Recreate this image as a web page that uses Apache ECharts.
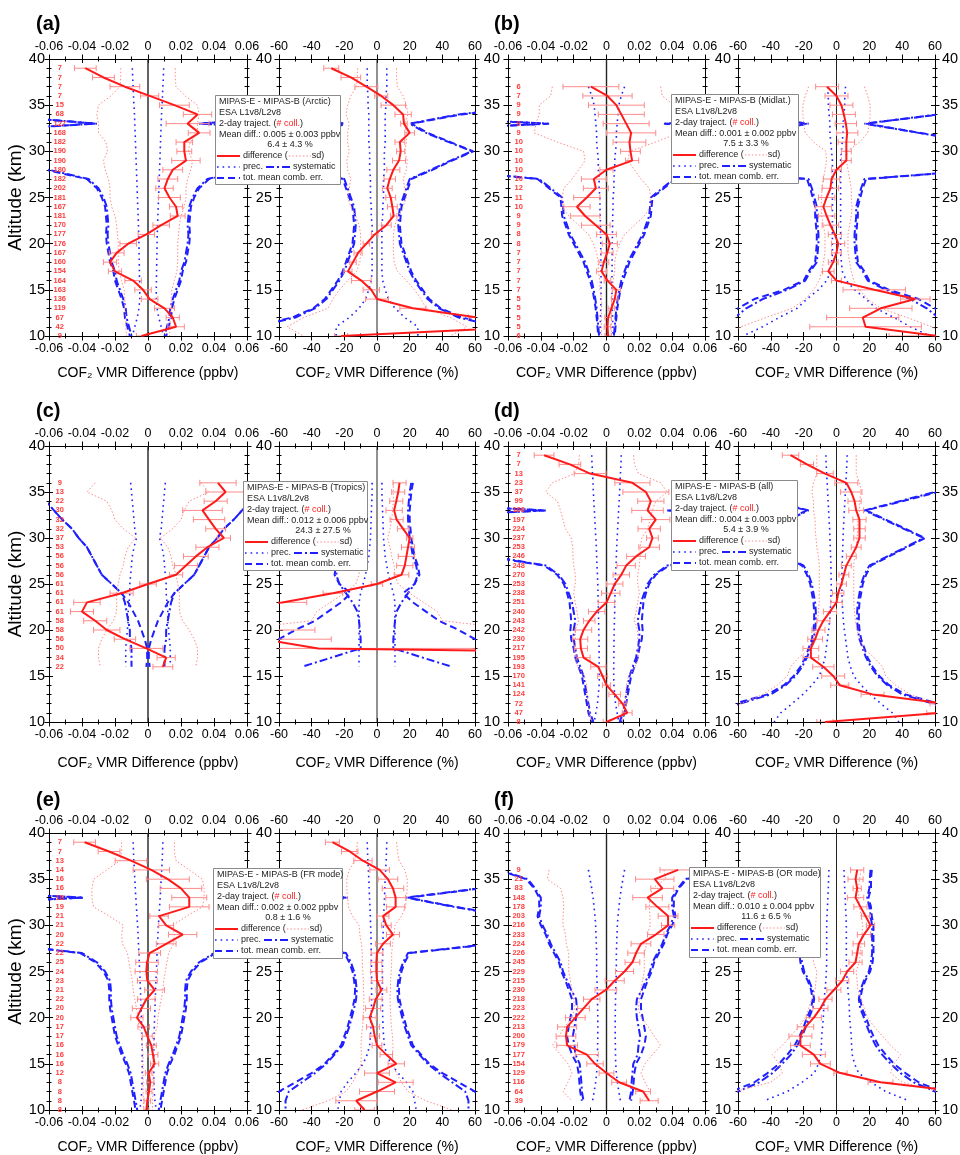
<!DOCTYPE html>
<html><head><meta charset="utf-8">
<script src="https://cdn.jsdelivr.net/npm/echarts@6/dist/echarts.min.js"></script>
<style>html,body{margin:0;padding:0;background:#fff}#c{width:960px;height:1155px}</style>
</head><body><div id="c"></div>
<script>
// ---------------- tick labels ----------------
const PPBV_TICKS = ['-0.06','-0.04','-0.02','0','0.02','0.04','0.06'];
const PCT_TICKS = ['-60','-40','-20','0','20','40','60'];
const ALT_TICKS = ['10','15','20','25','30','35','40'];

// ---------------- altitude levels (km) ----------------
const ALT_39_10 = [39,38,37,36,35,34,33,32,31,30,29,28,27,26,25,24,23,22,21,20,19,18,17,16,15,14,13,12,11,10];
const ALT_37_10 = [37,36,35,34,33,32,31,30,29,28,27,26,25,24,23,22,21,20,19,18,17,16,15,14,13,12,11,10];
const ALT_36_16 = [36,35,34,33,32,31,30,29,28,27,26,25,24,23,22,21,20,19,18,17,16];
const ALT_36_11 = [36,35,34,33,32,31,30,29,28,27,26,25,24,23,22,21,20,19,18,17,16,15,14,13,12,11];

// ---------------- (a) Arctic ----------------
const A_COLL = [7,7,7,7,15,68,127,168,182,190,190,180,182,202,181,167,181,170,177,176,167,160,154,164,163,136,119,67,42,9];
const A_DIFF_PPBV = [-0.038,-0.027,-0.014,0.001,0.016,0.030,0.024,0.031,0.022,0.022,0.023,0.015,0.012,0.010,0.013,0.017,0.018,0.008,-0.001,-0.012,-0.019,-0.023,-0.020,-0.009,-0.003,0.001,0.010,0.015,0.017,-0.004];
const A_ERR_PPBV = [0.0066,0.0066,0.009,0.0055,0.009,0.0086,0.013,0.0066,0.005,0.0045,0.0086,0.006,0.006,0.0053,0.0066,0.004,0.0045,0.005,0.005,0.005,0.0045,0.004,0.004,0.005,0.005,0.005,0.006,0.004,0.005,0.003];
const A_SD_PPBV = [0.0165,0.0165,0.017,0.0225,0.030,0.031,0.030,0.030,0.0255,0.0245,0.027,0.026,0.024,0.023,0.023,0.022,0.020,0.019,0.0185,0.018,0.018,0.018,0.0175,0.016,0.0145,0.014,0.014,0.0135,0.0135,0.013];
const A_PREC_PPBV = [0.0095,0.0093,0.009,0.0088,0.0085,0.0082,0.008,0.0078,0.0076,0.0074,0.0072,0.007,0.0068,0.0066,0.0064,0.0062,0.006,0.0058,0.0056,0.0055,0.0054,0.0053,0.0052,0.0051,0.005,0.005,0.0055,0.0065,0.008,0.0095];
const A_SYS_PPBV = [0.2,0.2,0.2,0.2,0.2,0.1,0.031,0.128,0.2,0.2,0.2,0.06,0.036,0.030,0.027,0.025,0.0245,0.024,0.0245,0.024,0.023,0.022,0.020,0.019,0.017,0.015,0.0135,0.013,0.0115,0.010];
const A_TOT_PPBV = [0.2,0.2,0.2,0.2,0.2,0.1,0.032,0.13,0.2,0.2,0.2,0.062,0.037,0.031,0.028,0.026,0.0255,0.025,0.0255,0.025,0.024,0.023,0.021,0.020,0.018,0.016,0.0145,0.014,0.0125,0.011];
const A_DIFF_PCT = [-28,-16,-6.5,2.6,10,16,16.5,20,14,14.5,13.5,10,7.8,6.3,8.4,9.4,10.2,5.7,-1.4,-6.5,-11.6,-14.7,-17.8,-9.6,-3.5,0,22,62,95,-22];
const A_ERR_PCT = [4.6,6,7,4,7.5,5,2,3,3,2.5,4,4,3.5,3,3,3,2,3,2,2,2.5,2,2.5,6,5,7,8,6,6,4];
const A_SD_PCT = [12,12,12.5,16,18,19,17,18,18,17,18.5,18,16,17,18,16,13,11,10,10,10,10.5,12.5,18,23,27,30,45,55,45];
const A_PREC_PCT = [6,6,6,5.5,5.5,5,5,5,5,4.5,4.5,4.5,4,4,4,3.5,3.5,3,3,3,3,3,3,3.5,5,7,11,17,25,25];
const A_SYS_PCT = [100,100,100,100,100,50,20,30,44,58,45,33,20,18,16,14,13.5,13,13.5,14,16,18,20,23,27,31,38,50,75,90];
const A_TOT_PCT = [100,100,100,100,100,52,21,31,45,59,46,34,21,19,17,15,14.5,14,14.5,15,17,19,21,24,28,32,39,52,78,95];

// ---------------- (b) Midlat. ----------------
const B_COLL = [6,7,9,9,9,9,10,10,10,10,10,12,11,10,9,9,8,8,7,7,7,7,7,5,5,5,5,6];
const B_DIFF_PPBV = [-0.0095,0.0006,0.006,0.009,0.012,0.015,0.014,0.0146,0.0156,0.0,-0.0077,-0.0065,-0.012,-0.018,-0.013,-0.0065,0.0,0.002,0.0004,-0.0016,-0.003,0.0006,0.006,0.005,0.003,0.001,0.0006,0.001];
const B_ERR_PPBV = [0.017,0.015,0.017,0.014,0.014,0.015,0.010,0.006,0.004,0.004,0.0076,0.0076,0.008,0.008,0.009,0.0087,0.006,0.0046,0.0036,0.003,0.003,0.002,0.0025,0.002,0.002,0.002,0.002,0.002];
const B_SD_PPBV = [0.033,0.034,0.041,0.041,0.043,0.044,0.030,0.014,0.013,0.017,0.021,0.026,0.027,0.027,0.023,0.017,0.011,0.008,0.006,0.005,0.005,0.004,0.004,0.003,0.003,0.003,0.003,0.003];
const B_PREC_PPBV = [0.011,0.009,0.0075,0.007,0.0065,0.006,0.006,0.0055,0.005,0.005,0.0045,0.0045,0.004,0.004,0.0038,0.0037,0.0036,0.0035,0.0035,0.0034,0.0034,0.0033,0.0033,0.0034,0.0035,0.0037,0.0039,0.004];
const B_SYS_PPBV = [0.2,0.2,0.2,0.15,0.035,0.15,0.2,0.2,0.2,0.1,0.041,0.034,0.027,0.0265,0.026,0.024,0.022,0.019,0.016,0.013,0.011,0.009,0.0078,0.0068,0.006,0.0055,0.005,0.0045];
const B_TOT_PPBV = [0.2,0.2,0.2,0.15,0.036,0.15,0.2,0.2,0.2,0.1,0.042,0.035,0.028,0.0275,0.027,0.025,0.023,0.020,0.017,0.014,0.012,0.010,0.0085,0.0075,0.0066,0.006,0.0055,0.005];
const B_DIFF_PCT = [-5.7,0,3,4.5,5.7,6.5,6,6,6,0,-3,-3.7,-6,-8,-6,-3.7,-1,1,0,-2,-5,0,23,48,27,16,17.7,62];
const B_ERR_PCT = [7,7,7,7,6.5,6.5,5,3,3,3,5,5,5,5,5,5,4,4,3,3,3.5,3,19,9,19,22,34,30];
const B_SD_PCT = [17,19,20.5,20.5,20,19,14,6.5,6,7,8,9,9,9.5,9,8,7,7,7,8,9,10.5,14,19,27,43,58,70];
const B_PREC_PCT = [5.5,5,5,4.5,4,4,3.5,3,2.5,2.5,2.5,2.5,2.5,2.5,2.5,2.5,2.5,2.5,2.5,3,3.5,6,11,18,24,35,45,57];
const B_SYS_PCT = [100,100,100,62,17,50,83,100,100,90,17,15,13.5,12,12,11.5,11,11,11.5,12,16,19,30,45,55,62,70,80];
const B_TOT_PCT = [100,100,100,63,18,51,84,100,100,92,18,16,14.5,13,13,12.5,12,12,12.5,13,17,20,32,50,60,68,75,85];

// ---------------- (c) Tropics ----------------
const C_COLL = [9,13,22,30,32,32,37,53,56,56,56,61,61,61,61,58,58,56,50,34,22];
const C_DIFF_PPBV = [0.0424,0.047,0.041,0.033,0.037,0.041,0.046,0.036,0.029,0.023,0.017,0.0,-0.016,-0.037,-0.040,-0.032,-0.025,-0.014,-0.001,0.011,0.009];
const C_ERR_PPBV = [0.011,0.012,0.007,0.012,0.0095,0.006,0.004,0.007,0.0075,0.007,0.004,0.005,0.007,0.008,0.007,0.007,0.008,0.0065,0.01,0.0055,0.006];
const C_SD_PPBV = [0.032,0.037,0.025,0.022,0.020,0.015,0.0075,0.012,0.014,0.015,0.017,0.018,0.019,0.019,0.019,0.021,0.025,0.028,0.030,0.030,0.029];
const C_PREC_PPBV = [0.0105,0.010,0.0095,0.009,0.0085,0.008,0.007,0.0085,0.0095,0.010,0.0105,0.011,0.011,0.0115,0.012,0.012,0.0125,0.013,0.0135,0.0135,0.0135];
const C_SYS_PPBV = [0.08,0.07,0.062,0.057,0.052,0.046,0.042,0.037,0.034,0.031,0.028,0.022,0.016,0.014,0.013,0.012,0.011,0.011,0.010,0.010,0.010];
const C_TOT_PPBV = [0.08,0.07,0.062,0.057,0.052,0.046,0.042,0.037,0.034,0.031,0.028,0.022,0.016,0.012,0.009,0.006,0.004,0.002,0.0005,0.0005,0.001];
const C_DIFF_PCT = [13.8,13,11.8,10.5,12,16,20,19,18,17,15,0,-27,-58,-120,-150,-100,-70,-36,400,300];
const C_ERR_PCT = [4,4,4,5,4,3.5,2,4,5,5,4.5,3.5,6,15,15,20,62,42,100,100,100];
const C_SD_PCT = [10,10,10,9.5,9,8,6.5,8,9,10.5,11,13,20,28.5,37,40,90,120,150,150,150];
const C_PREC_PCT = [3,3,3.2,3.4,3.6,3.8,4,4.5,5,6,7,8.5,10,11,11,11,11,11,11,11,11];
const C_SYS_PCT = [21,20,19.5,19,19,19.5,20,21,22,24,25,23,19,15,12,11,10.5,10,10,28,46];
const C_TOT_PCT = [22,21,20.5,20,20,20.5,21,22,23,25,26,23,16,22,30,38,50,60,100,100,100];

// ---------------- (d) all ----------------
const D_COLL = [7,7,13,23,37,99,166,197,224,237,253,246,248,270,253,238,251,240,243,242,230,217,195,193,170,141,124,72,47,8];
const D_DIFF_PPBV = [-0.038,-0.0223,-0.010,0.0158,0.024,0.027,0.025,0.030,0.026,0.028,0.026,0.018,0.012,0.009,0.005,0.0026,0.0,-0.006,-0.0105,-0.014,-0.016,-0.0156,-0.014,-0.005,-0.0024,0.0,0.005,0.0097,0.0126,0.0];
const D_ERR_PPBV = [0.006,0.0066,0.0097,0.0107,0.014,0.008,0.0096,0.0086,0.0068,0.0036,0.0063,0.0057,0.0056,0.005,0.005,0.0056,0.005,0.005,0.0035,0.005,0.0046,0.004,0.004,0.0046,0.003,0.0025,0.0035,0.0023,0.003,0.002];
const D_SD_PPBV = [0.0165,0.017,0.0195,0.033,0.037,0.030,0.028,0.0265,0.025,0.0215,0.0205,0.0205,0.020,0.019,0.019,0.020,0.019,0.018,0.017,0.019,0.019,0.019,0.0195,0.0175,0.0135,0.012,0.012,0.011,0.0105,0.0095];
const D_PREC_PPBV = [0.009,0.0088,0.0085,0.0082,0.008,0.0077,0.0074,0.0071,0.0068,0.0065,0.0062,0.006,0.0058,0.0055,0.0053,0.0052,0.005,0.005,0.0048,0.0047,0.0046,0.0045,0.0045,0.0044,0.0044,0.0045,0.005,0.0055,0.0065,0.0075];
const D_SYS_PPBV = [0.2,0.2,0.2,0.2,0.2,0.15,0.037,0.15,0.2,0.2,0.2,0.07,0.037,0.029,0.025,0.023,0.021,0.020,0.019,0.020,0.020,0.019,0.018,0.016,0.014,0.013,0.012,0.011,0.010,0.008];
const D_TOT_PPBV = [0.2,0.2,0.2,0.2,0.2,0.15,0.038,0.15,0.2,0.2,0.2,0.072,0.038,0.030,0.026,0.024,0.0225,0.022,0.0215,0.022,0.0215,0.020,0.019,0.017,0.015,0.014,0.013,0.012,0.011,0.009];
const D_DIFF_PCT = [-28,-18,-7,6,9,11,12,14,14,14,12,9,6,4.5,3,1,0,-4,-8,-11,-13,-15.6,-15.6,-8,-2,2,22,66,64,-7];
const D_ERR_PCT = [5,4,5,7,6.5,4,4.5,4,3.5,3.5,3,3,3,3,3,3.5,3.5,4,4,4,4.5,4.8,4.8,6.5,7,5.5,7,9,9,5];
const D_SD_PCT = [12,12,12,14,15,14,14,13,13,12.5,12,11,10.5,10.5,10.5,10.5,10.5,11,11.5,12.5,14.5,16,23,28,30,36,45,58,70,80];
const D_PREC_PCT = [6.5,6.3,6,5.7,5.4,5.1,4.8,4.5,4.2,4,3.8,3.6,3.4,3.3,3.2,3.3,3.5,3.8,4.2,4.8,5.5,6.3,7,8.5,10.5,15,20.5,27,34,38];
const D_SYS_PCT = [100,100,100,100,60,38.5,17,29,41,53,42,31,20,17,15,14,13,12.6,12.6,13,14,16,18,21,25,31,40,59,80,100];
const D_TOT_PCT = [100,100,100,100,62,40,18,30,42,54,43,32,21,18,16,15,14,13.6,13.6,14,15,17,19,22,26,32,42,62,85,100];

// ---------------- (e) FR mode ----------------
const E_COLL = [7,7,13,14,16,16,18,19,21,21,20,22,22,25,24,23,21,22,20,20,17,17,16,16,16,12,8,8,8,8];
const E_DIFF_PPBV = [-0.0384,-0.0236,-0.0103,0.002,0.012,0.020,0.025,0.025,0.0067,0.011,0.021,0.011,0.001,-0.0006,-0.001,-0.0004,0.004,-0.001,-0.004,-0.0067,-0.0026,-0.0004,0.002,0.003,0.004,0.0004,0.0014,0.0006,-0.0004,-0.001];
const E_ERR_PPBV = [0.0066,0.0066,0.0096,0.011,0.013,0.0126,0.0106,0.012,0.0056,0.0045,0.0086,0.006,0.0066,0.0068,0.0068,0.006,0.006,0.0053,0.0055,0.0037,0.0035,0.003,0.003,0.003,0.0025,0.002,0.0022,0.0018,0.002,0.0015];
const E_SD_PPBV = [0.016,0.016,0.017,0.025,0.033,0.034,0.034,0.033,0.0235,0.015,0.016,0.0155,0.0125,0.0115,0.0105,0.0095,0.009,0.008,0.007,0.006,0.0055,0.0037,0.0035,0.003,0.003,0.003,0.003,0.003,0.0028,0.0027];
const E_PREC_PPBV = [0.009,0.0088,0.0086,0.0083,0.008,0.0077,0.0074,0.007,0.0067,0.0063,0.006,0.0058,0.0055,0.0053,0.005,0.0048,0.0046,0.0044,0.0042,0.004,0.0038,0.0037,0.0036,0.0035,0.0035,0.0035,0.0036,0.0038,0.0042,0.005];
const E_SYS_PPBV = [0.2,0.2,0.2,0.2,0.2,0.15,0.039,0.15,0.2,0.2,0.2,0.09,0.040,0.031,0.026,0.023,0.0225,0.0225,0.022,0.021,0.020,0.019,0.017,0.015,0.0125,0.0105,0.0095,0.0085,0.0075,0.0065];
const E_TOT_PPBV = [0.2,0.2,0.2,0.2,0.2,0.15,0.040,0.15,0.2,0.2,0.2,0.09,0.041,0.032,0.027,0.024,0.0235,0.0235,0.023,0.022,0.021,0.020,0.018,0.016,0.0135,0.0115,0.0105,0.0095,0.0085,0.0075];
const E_DIFF_PCT = [-27.3,-16.7,-8.6,1.6,6.7,9.8,11.4,11.4,3.7,5.7,9.8,3.7,0,-0.4,-0.4,0,2.7,-0.8,-2.4,-4.5,-2.4,-1.4,0,5.7,11.8,0,11.4,0,-12.7,-7.6];
const E_ERR_PCT = [4.3,5,5.6,6,6,6.6,6,5.6,3.6,3,4,4.5,3.6,3.4,3.5,3.5,3.3,3.9,4.6,4,4,3,3,3.8,5,7.6,10.7,10.7,12.5,6];
const E_SD_PCT = [12,12.5,13.5,17,18.5,18.5,18,17.5,15,11,10.5,9.5,9,9,8.7,8.3,8.2,8,8.2,8.5,8.8,9.5,9.8,9.6,9.8,11.8,15,19,30,46];
const E_PREC_PCT = [6,5.8,5.6,5.3,5,4.8,4.6,4.3,4.1,3.9,3.7,3.6,3.5,3.4,3.3,3.3,3.3,3.3,3.4,3.5,3.7,4,4.5,6,8.5,13,18,22,23,24];
const E_SYS_PCT = [100,100,100,100,100,62,18,47,80,100,100,70,19,16,14,13,12.4,12.8,14,15.5,17,19,21,26,31,38,46,54,56,56];
const E_TOT_PCT = [100,100,100,100,100,64,19,48,82,100,100,72,20,17,15,14,13.4,13.8,15,16.5,18,20,22,27,32,40,50,60,63,65];

// ---------------- (f) OR mode ----------------
const F_COLL = [9,21,83,148,178,203,216,233,224,226,245,229,215,230,218,223,222,213,200,179,177,154,129,116,64,39];
const F_DIFF_PPBV = [0.0436,0.0294,0.034,0.025,0.031,0.0375,0.0375,0.030,0.021,0.018,0.0158,0.011,0.005,-0.0004,-0.009,-0.014,-0.019,-0.024,-0.0247,-0.024,-0.012,-0.007,0.0,0.0077,0.0223,0.026];
const F_ERR_PPBV = [0.011,0.0117,0.007,0.009,0.007,0.006,0.004,0.005,0.006,0.005,0.0045,0.0055,0.0058,0.0066,0.005,0.0036,0.006,0.0058,0.006,0.0063,0.007,0.005,0.0045,0.0045,0.0045,0.0055];
const F_SD_PPBV = [0.035,0.036,0.028,0.0265,0.026,0.0265,0.0265,0.025,0.0245,0.023,0.023,0.023,0.022,0.021,0.020,0.0195,0.021,0.0255,0.029,0.033,0.028,0.0235,0.021,0.0235,0.0265,0.021];
const F_PREC_PPBV = [0.011,0.010,0.009,0.0082,0.0076,0.007,0.0066,0.0064,0.0062,0.006,0.006,0.006,0.0058,0.0056,0.0055,0.0054,0.0053,0.0053,0.0053,0.0054,0.0055,0.0056,0.006,0.0066,0.0075,0.0085];
const F_SYS_PPBV = [0.065,0.048,0.0435,0.040,0.040,0.041,0.039,0.036,0.034,0.031,0.028,0.0265,0.024,0.0215,0.0185,0.018,0.0185,0.0195,0.0205,0.0195,0.019,0.0163,0.0158,0.0153,0.015,0.014];
const F_TOT_PPBV = [0.066,0.049,0.044,0.041,0.041,0.042,0.040,0.037,0.035,0.032,0.029,0.0275,0.025,0.023,0.021,0.021,0.022,0.023,0.024,0.023,0.021,0.018,0.017,0.0165,0.016,0.015];
const F_DIFF_PCT = [12.6,11.6,12.6,11.6,14.6,17.7,20.7,16.7,13.6,12.6,11.6,6.5,3.5,-1.6,-6.7,-9.8,-13.8,-18.9,-22,-22,-13.8,-9.8,2.4,26.8,75,100];
const F_ERR_PCT = [4,4.6,2.5,5,4,2.5,2.5,4,3.5,3,4,4,4,4.3,4,4.6,4.6,5,7,6,7,6,4,7.6,8,8];
const F_SD_PCT = [15,14,13.5,13.5,14,15,16,15.5,15,14.5,14,12,12.5,13,15,17,19,23,28,33,39,35,33,40,62,80];
const F_PREC_PCT = [4.6,4.8,5,5.3,5.5,5.8,6,6,6,6,6,6.2,6.5,7,7.5,7.8,8,8.5,9,9.2,9.6,11,13.5,21,30,44];
const F_SYS_PCT = [20.7,20.3,20,18.7,20,20.7,21.7,21.7,21.7,21.7,21,19.7,16.7,14.6,13.6,14.5,16.7,18.7,21,23.8,27.8,33,39,47,60,80];
const F_TOT_PCT = [21.5,21,21,19.5,21,21.5,22.5,22.5,22.5,22.5,22,20.5,17.5,15.5,14.5,15.5,18,20,22.5,25.5,30,35,42,50,64,85];

// ---------------- panel text ----------------
const PANEL_LABELS = ['(a)','(b)','(c)','(d)','(e)','(f)'];
const REGIONS = ['Arctic','Midlat.','Tropics','all','FR mode','OR mode'];
const MEAN_PPBV = ['0.005 ± 0.003 ppbv','0.001 ± 0.002 ppbv','0.012 ± 0.006 ppbv','0.004 ± 0.003 ppbv','0.002 ± 0.002 ppbv','0.010 ± 0.004 ppbv'];
const MEAN_PCT = ['6.4 ± 4.3 %','7.5 ± 3.3 %','24.3 ± 27.5 %','5.4 ± 3.9 %','0.8 ± 1.6 %','11.6 ± 6.5 %'];

const PANELS = [
  {alt:ALT_39_10, coll:A_COLL, ppbv:[A_DIFF_PPBV,A_ERR_PPBV,A_SD_PPBV,A_PREC_PPBV,A_SYS_PPBV,A_TOT_PPBV], pct:[A_DIFF_PCT,A_ERR_PCT,A_SD_PCT,A_PREC_PCT,A_SYS_PCT,A_TOT_PCT]},
  {alt:ALT_37_10, coll:B_COLL, ppbv:[B_DIFF_PPBV,B_ERR_PPBV,B_SD_PPBV,B_PREC_PPBV,B_SYS_PPBV,B_TOT_PPBV], pct:[B_DIFF_PCT,B_ERR_PCT,B_SD_PCT,B_PREC_PCT,B_SYS_PCT,B_TOT_PCT]},
  {alt:ALT_36_16, coll:C_COLL, ppbv:[C_DIFF_PPBV,C_ERR_PPBV,C_SD_PPBV,C_PREC_PPBV,C_SYS_PPBV,C_TOT_PPBV], pct:[C_DIFF_PCT,C_ERR_PCT,C_SD_PCT,C_PREC_PCT,C_SYS_PCT,C_TOT_PCT]},
  {alt:ALT_39_10, coll:D_COLL, ppbv:[D_DIFF_PPBV,D_ERR_PPBV,D_SD_PPBV,D_PREC_PPBV,D_SYS_PPBV,D_TOT_PPBV], pct:[D_DIFF_PCT,D_ERR_PCT,D_SD_PCT,D_PREC_PCT,D_SYS_PCT,D_TOT_PCT]},
  {alt:ALT_39_10, coll:E_COLL, ppbv:[E_DIFF_PPBV,E_ERR_PPBV,E_SD_PPBV,E_PREC_PPBV,E_SYS_PPBV,E_TOT_PPBV], pct:[E_DIFF_PCT,E_ERR_PCT,E_SD_PCT,E_PREC_PCT,E_SYS_PCT,E_TOT_PCT]},
  {alt:ALT_36_11, coll:F_COLL, ppbv:[F_DIFF_PPBV,F_ERR_PPBV,F_SD_PPBV,F_PREC_PPBV,F_SYS_PPBV,F_TOT_PPBV], pct:[F_DIFF_PCT,F_ERR_PCT,F_SD_PCT,F_PREC_PCT,F_SYS_PCT,F_TOT_PCT]}
];

// ---------------- layout ----------------
const FONT = 'Arial, "Liberation Sans", Helvetica, sans-serif';
const ROW_TOP = [59, 446, 833], ROW_H = [277, 276, 277];
const COL_L = [49, 279, 508, 738], COL_W = [198, 196, 197, 197];
const YLAB_MARGIN = [4, 7, 8, 7];
const XNAME_GAP = [30, 34, 30];
const LEG_BOX = [[215,95,125,89],[671,94,127,89],[243,481,124,89],[671,480,126,90],[213,868,129,90],[689,867,131,90]];
const PANEL_LABEL_POS = [[36,24],[494,24],[36,411],[494,411],[36,800],[494,800]];

const RED = '#ff1a1a', PINK = '#ff8a8a', BLUE = '#1f1fff';

const grids = [], xAxes = [], yAxes = [], series = [], graphics = [];

function mkX(gi, isPct, pos, inside, showLabel, name, row) {
  const r = isPct ? 60 : 0.06, step = isPct ? 20 : 0.02;
  const labs = isPct ? PCT_TICKS : PPBV_TICKS;
  const ax = {
    type:'value', gridIndex:gi, min:-r, max:r, interval:step, position:pos,
    splitLine:{show:false},
    axisLine:{show:true, onZero:false, lineStyle:{color:'#000', width:1}},
    axisTick:{show:true, inside:inside, length:inside?4:4.5, lineStyle:{color:'#000', width:1}},
    minorTick:{show:true, splitNumber:2, length:2.5, lineStyle:{color:'#000', width:1}},
    axisLabel:{show:showLabel, hideOverlap:false, showMinLabel:true, showMaxLabel:true, margin:6,
      fontSize:12.5, color:'#000', fontFamily:FONT,
      formatter: v => labs[Math.round((v + r) / step)]}
  };
  if (name) {
    ax.name = name; ax.nameLocation = 'middle'; ax.nameGap = XNAME_GAP[row];
    ax.nameTextStyle = {fontSize:14, color:'#000', fontFamily:FONT};
  }
  xAxes.push(ax);
}
function mkY(gi, pos, inside, showLabel, margin, name) {
  const ax = {
    type:'value', gridIndex:gi, min:10, max:40, interval:5, position:pos,
    splitLine:{show:false},
    axisLine:{show:true, onZero:false, lineStyle:{color:'#000', width:1}},
    axisTick:{show:true, inside:inside, length:inside?4:4.5, lineStyle:{color:'#000', width:1}},
    minorTick:{show:true, splitNumber:5, length:2.5, lineStyle:{color:'#000', width:1}},
    axisLabel:{show:showLabel, hideOverlap:false, showMinLabel:true, showMaxLabel:true, margin:margin,
      fontSize:14.5, color:'#000', fontFamily:FONT,
      formatter: v => ALT_TICKS[Math.round((v - 10) / 5)]}
  };
  if (name) {
    ax.name = name; ax.nameLocation = 'middle'; ax.nameGap = 22;
    ax.nameTextStyle = {fontSize:19, color:'#000', fontFamily:FONT};
  }
  yAxes.push(ax);
}

function pts(vals, alts, sign) { return alts.map((a, i) => [sign * vals[i], a]); }
function line(gi, data, color, width, type, z) {
  series.push({type:'line', xAxisIndex:gi*4, yAxisIndex:gi*4, data:data, symbol:'none', showSymbol:false,
    silent:true, animation:false, clip:true, z:z, lineStyle:{color:color, width:width, type:type}});
}

function addSubplot(p, isPct) {
  const row = Math.floor(p / 2), col = (p % 2) * 2 + (isPct ? 1 : 0);
  const gi = grids.length;
  grids.push({left:COL_L[col], top:ROW_TOP[row], width:COL_W[col], height:ROW_H[row], containLabel:false, outerBoundsMode:'none'});
  const xName = isPct ? 'COF₂ VMR Difference (%)' : 'COF₂ VMR Difference (ppbv)';
  mkX(gi, isPct, 'bottom', false, true, xName, row);
  mkX(gi, isPct, 'top', false, true, null, row);
  mkX(gi, isPct, 'bottom', true, false, null, row);
  mkX(gi, isPct, 'top', true, false, null, row);
  mkY(gi, 'left', false, true, YLAB_MARGIN[col], col === 0 ? 'Altitude (km)' : null);
  mkY(gi, 'right', false, col === 3, 7, null);
  mkY(gi, 'left', true, false, 0, null);
  mkY(gi, 'right', true, false, 0, null);

  const P = PANELS[p], alts = P.alt;
  const [diff, err, sd, prec, sys, tot] = isPct ? P.pct : P.ppbv;
  // zero line
  line(gi, [[0, 10], [0, 40]], '#222', isPct ? 1 : 1.4, 'solid', 1);
  // blue error profiles and pink sd
  for (const s of [1, -1]) {
    line(gi, pts(tot, alts, s), BLUE, 2, [7, 4], 2);
    line(gi, pts(sys, alts, s), BLUE, 2, [8, 3, 2, 3], 2);
    line(gi, pts(prec, alts, s), BLUE, 1.6, [1.6, 4], 2);
    line(gi, pts(sd, alts, s), PINK, 1, [1.5, 2], 3);
  }
  // error bars
  series.push({type:'custom', xAxisIndex:gi*4, yAxisIndex:gi*4, silent:true, animation:false, clip:true, z:4,
    data: alts.map((a, i) => [diff[i], a, err[i]]),
    renderItem: function (params, api) {
      const x = api.value(0), y = api.value(1), e = api.value(2);
      const a = api.coord([x - e, y]), b = api.coord([x + e, y]);
      const st = {stroke:PINK, lineWidth:1};
      return {type:'group', children:[
        {type:'line', shape:{x1:a[0], y1:a[1], x2:b[0], y2:b[1]}, style:st},
        {type:'line', shape:{x1:a[0], y1:a[1]-3, x2:a[0], y2:a[1]+3}, style:st},
        {type:'line', shape:{x1:b[0], y1:b[1]-3, x2:b[0], y2:b[1]+3}, style:st}
      ]};
    }});
  // difference
  line(gi, pts(diff, alts, 1), RED, 2, 'solid', 5);
  // number of collocations
  if (!isPct) {
    series.push({type:'custom', xAxisIndex:gi*4, yAxisIndex:gi*4, silent:true, animation:false, z:6,
      data: alts.map((a, i) => [-0.0535, a, P.coll[i]]),
      renderItem: function (params, api) {
        const c = api.coord([api.value(0), api.value(1)]);
        return {type:'text', x:c[0], y:c[1], style:{text:String(api.value(2)), fill:'#ff3c3c',
          fontSize:7.5, fontWeight:'bold', fontFamily:FONT, align:'center', verticalAlign:'middle'}};
      }});
  }
}

// text measuring for legend layout
const mctx = document.createElement('canvas').getContext('2d');
function tw(s, size) { mctx.font = size + 'px ' + FONT; return mctx.measureText(s).width; }
function gtext(x, y, text, extra) {
  graphics.push({type:'text', x:x, y:y, z:101, silent:true,
    style:Object.assign({text:text, fill:'#222', fontSize:9, fontFamily:FONT, align:'left', verticalAlign:'middle'}, extra || {})});
}
function gline(x1, y1, x2, y2, color, width, dash) {
  graphics.push({type:'line', z:101, silent:true, shape:{x1:x1, y1:y1, x2:x2, y2:y2},
    style:{stroke:color, lineWidth:width, lineDash:dash || null}});
}
function addLegend(p) {
  const [x0, y0, w, h] = LEG_BOX[p];
  graphics.push({type:'rect', z:100, silent:true, shape:{x:x0+0.5, y:y0+0.5, width:w, height:h},
    style:{fill:'#fff', stroke:'#8a8a8a', lineWidth:1}});
  const R = [6.5, 17.5, 28.5, 39.5, 50, 61, 72, 83].map(v => y0 + v);
  const tx = x0 + 4;
  gtext(tx, R[0], 'MIPAS-E - MIPAS-B (' + REGIONS[p] + ')');
  gtext(tx, R[1], 'ESA L1v8/L2v8');
  gtext(tx, R[2], '2-day traject. ({r|# coll.})', {rich:{r:{fill:'#ff1a1a', fontSize:9, fontFamily:FONT}}});
  gtext(tx, R[3], 'Mean diff.: ' + MEAN_PPBV[p]);
  gtext(tx + tw('Mean diff.: ', 9) + 4, R[4], MEAN_PCT[p]);
  const lx0 = x0 + 2, lx1 = x0 + 25, t2 = x0 + 28;
  gline(lx0, R[5], lx1, R[5], RED, 2, null);
  gtext(t2, R[5], 'difference (');
  const w1 = tw('difference (', 9);
  gline(t2 + w1 + 1, R[5], t2 + w1 + 23, R[5], PINK, 1, [1.5, 2]);
  gtext(t2 + w1 + 24, R[5], 'sd)');
  gline(lx0, R[6], lx1, R[6], BLUE, 1.6, [1.6, 4]);
  gtext(t2, R[6], 'prec.');
  const w2 = tw('prec.', 9);
  gline(t2 + w2 + 3, R[6], t2 + w2 + 29, R[6], BLUE, 2, [8, 3, 2, 3]);
  gtext(t2 + w2 + 30, R[6], 'systematic');
  gline(lx0, R[7], lx1, R[7], BLUE, 2, [7, 4]);
  gtext(t2, R[7], 'tot. mean comb. err.');
}

for (let p = 0; p < 6; p++) {
  addSubplot(p, false);
  addSubplot(p, true);
}
for (let p = 0; p < 6; p++) {
  addLegend(p);
  graphics.push({type:'text', x:PANEL_LABEL_POS[p][0], y:PANEL_LABEL_POS[p][1], z:101, silent:true,
    style:{text:PANEL_LABELS[p], fill:'#000', fontSize:20, fontWeight:'bold', fontFamily:FONT, align:'left', verticalAlign:'middle'}});
}

const chart = echarts.init(document.getElementById('c'), null, {renderer:'canvas'});
chart.setOption({
  animation:false, backgroundColor:'#fff',
  grid:grids, xAxis:xAxes, yAxis:yAxes, series:series,
  graphic:{elements:graphics}
});
</script></body></html>
